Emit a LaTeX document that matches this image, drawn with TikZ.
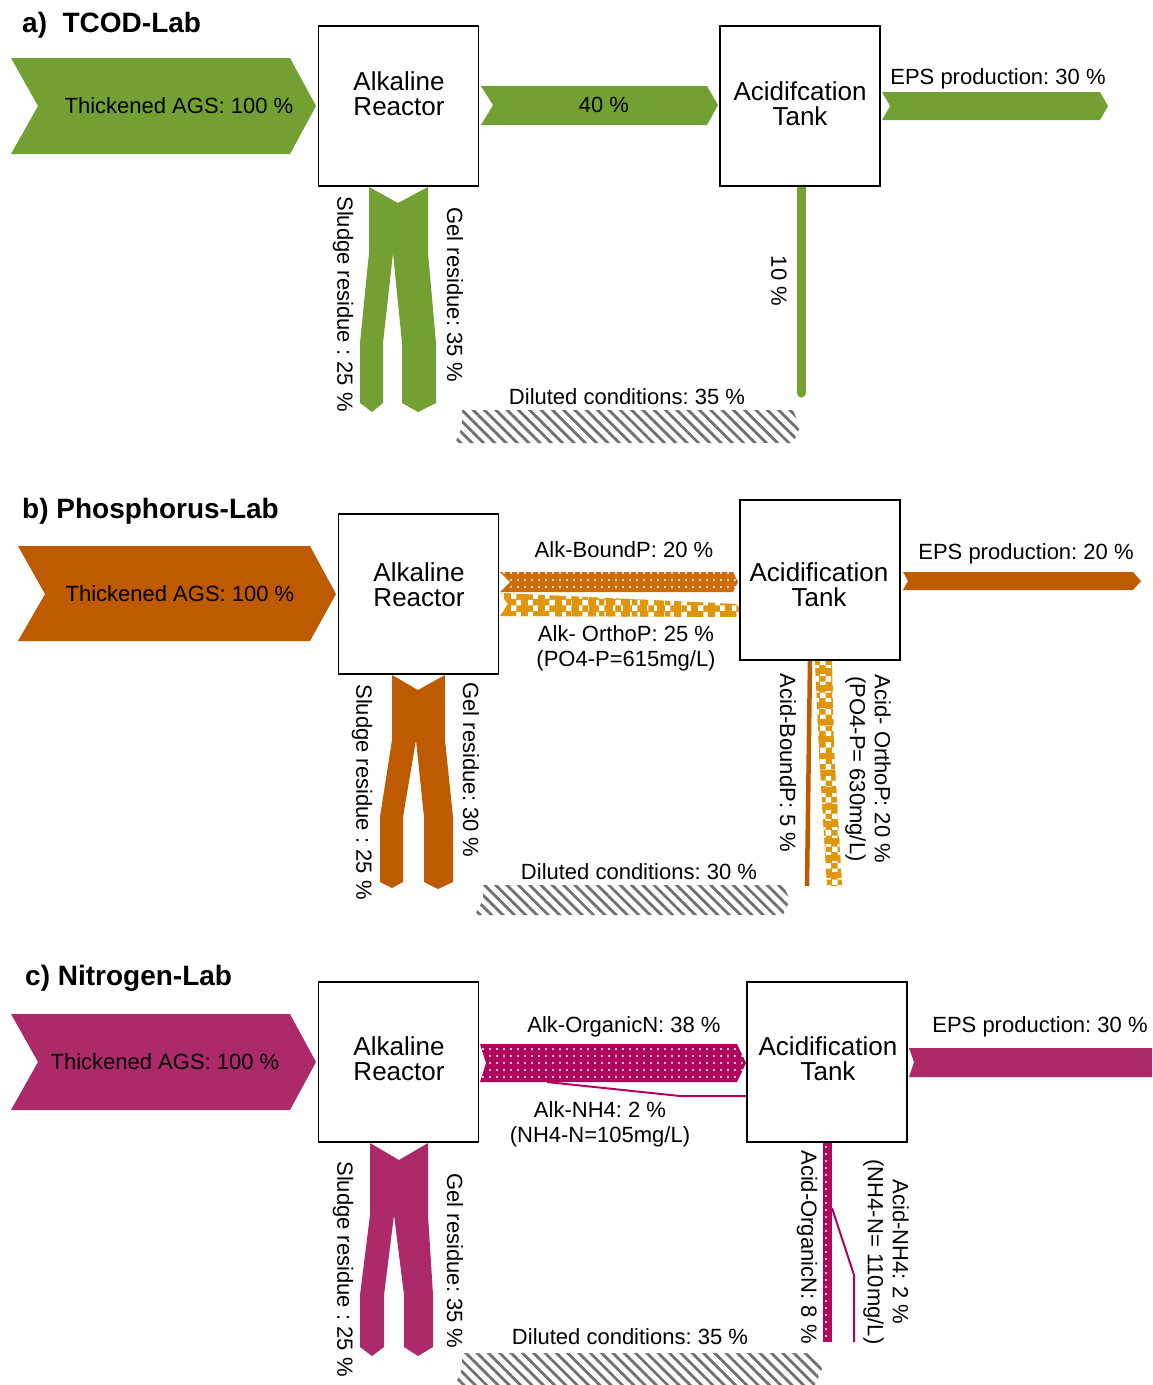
\documentclass[tikz,border=0pt]{standalone}
\usepackage{fontspec}
\setmainfont{Liberation Sans}
\frenchspacing
\usetikzlibrary{patterns,patterns.meta}
\definecolor{grn}{HTML}{73A033}
\definecolor{org}{HTML}{BE5A00}
\definecolor{orgD}{HTML}{CC6C0A}
\definecolor{orgL}{HTML}{E0960A}
\definecolor{mag}{HTML}{AC2A6A}
\definecolor{magD}{HTML}{B0045C}
\definecolor{hatch}{HTML}{707070}
\tikzset{
  box/.style={draw, line width=1.6pt, fill=white, minimum width=160pt, minimum height=160pt, inner sep=0pt},
  boxtxt/.style={font=\fontsize{26}{25}\selectfont, align=center, inner sep=0pt},
  lbl/.style={font=\fontsize{22}{25}\selectfont, align=center, inner sep=0pt},
  ttl/.style={font=\bfseries\fontsize{28}{30}\selectfont, anchor=west, inner sep=0pt},
  dotband/.style={pattern={Dots[distance=7pt,radius=1.2pt]}, pattern color=white},
  hatchband/.style={pattern={Lines[angle=-45,distance=8pt,line width=2.8pt]}, pattern color=hatch}
}
\begin{document}
\begin{tikzpicture}[x=1pt,y=-1pt]
\useasboundingbox (0,0) rectangle (1152,1385);

% ================= a) =================
\node[ttl] (ta) at (22,25) {a)\ \ TCOD-Lab};
\fill[grn] (11,58)--(290,58)--(316,106)--(290,154)--(11,154)--(38,106)--cycle;
\node[lbl] (ina) at (179,106) {Thickened AGS: 100 \%};
% 40 %
\fill[grn] (481,86)--(707,86)--(718,105)--(707,125)--(481,125)--(493,105)--cycle;
\node[lbl] (fa) at (604,105) {40 \%};
% EPS
\fill[grn] (882,92)--(1100,92)--(1108,106)--(1100,120)--(882,120)--(890,106)--cycle;
\node[lbl] (epsa) at (998,79) {EPS production: 30 \%};
% residues (sludge + gel legs)
\fill[grn] (369,187)--(398,203)--(428,187)--(428,253)--(436,343)--(436,403)--(418,412)--(402,403)--(402,343)--(393,253)--(383,343)--(383,403)--(372,412)--(360,403)--(360,343)--(369,253)--cycle;
\node[lbl, rotate=-90] (sla) at (343,304) {Sludge residue : 25 \%};
\node[lbl, rotate=-90] (gla) at (455,295) {Gel residue: 35 \%};
% 10 %
\draw[grn, line width=9pt, line cap=round] (801,180)--(801,393);
\node[lbl, rotate=-90] (tena) at (779,281) {10 \%};
% diluted
\fill[hatchband] (462,410)--(793,410)--(800,427)--(793,443)--(455,443)--(462,427)--cycle;
\node[lbl] (dila) at (627,397) {Diluted conditions: 35 \%};
% boxes
\node[box] (ra) at (398.5,106) {};
\node[boxtxt] at (399,94) {Alkaline\\Reactor};
\node[box] (aa) at (800,106) {};
\node[boxtxt] at (800,104) {Acidifcation\\Tank};

% ================= b) =================
\node[ttl] (tb) at (22,511) {b) Phosphorus-Lab};
\fill[org] (18,546)--(310,546)--(336,594)--(310,641)--(18,641)--(45,594)--cycle;
\node[lbl] (inb) at (180,594) {Thickened AGS: 100 \%};
% Alk-BoundP
\fill[orgD] (500,572)--(733,572)--(738,582)--(733,592)--(500,592)--(510,582)--cycle;
\fill[dotband] (500,572)--(733,572)--(738,582)--(733,592)--(500,592)--(510,582)--cycle;
\node[lbl] (bpb) at (624,550) {Alk-BoundP: 20 \%};
% Alk-OrthoP
\begin{scope}
  \clip (500,593)--(737,604)--(740,610)--(737,617)--(500,616)--(508,604)--cycle;
  \fill[orgL] (495,585) rectangle (745,625);
  \fill[pattern=checkerboard, pattern color=white] (495,585) rectangle (745,625);
  \foreach \x in {504,521,...,740} \fill[orgL] (\x,585) rectangle ++(7,40);
\end{scope}
\node[lbl] (opb) at (626,648) {Alk- OrthoP: 25 \%\\(PO4-P=615mg/L)};
% EPS
\fill[org] (903,572)--(1133,572)--(1141,581)--(1133,590)--(903,590)--(908,581)--cycle;
\node[lbl] (epsb) at (1026,554) {EPS production: 20 \%};
% residues
\fill[org] (392,675)--(418,690)--(445,675)--(445,740)--(453,817)--(453,882)--(438,889)--(424,882)--(424,817)--(416,740)--(403,817)--(403,882)--(392,888)--(380,882)--(380,817)--(392,740)--cycle;
\node[lbl, rotate=-90] (slb) at (362,792) {Sludge residue : 25 \%};
\node[lbl, rotate=-90] (glb) at (471,770) {Gel residue: 30 \%};
% Acid-BoundP
\draw[org, line width=4.5pt] (810,660)--(807,886);
\node[lbl, rotate=-90] (abpb) at (788,763) {Acid-BoundP: 5 \%};
% Acid-OrthoP
\begin{scope}
  \clip (815,661)--(832,661)--(834,750)--(842,886)--(827,886)--(819,750)--cycle;
  \fill[orgL] (810,655) rectangle (850,890);
  \fill[pattern=checkerboard, pattern color=white] (810,655) rectangle (850,890);
  \foreach \y in {668,685,...,885} \fill[orgL] (810,\y) rectangle ++(40,6);
\end{scope}
\node[lbl, rotate=-90] (aopb) at (868,769) {Acid- OrthoP: 20 \%\\(PO4-P= 630mg/L)};
% diluted
\fill[hatchband] (483,885)--(783,885)--(790,900)--(783,915)--(475,915)--(483,900)--cycle;
\node[lbl] (dilb) at (639,872) {Diluted conditions: 30 \%};
% boxes
\node[box] (rb) at (418.5,594) {};
\node[boxtxt] at (419,585) {Alkaline\\Reactor};
\node[box] (ab) at (820,580) {};
\node[boxtxt] at (819,585) {Acidification\\Tank};

% ================= c) =================
\node[ttl] (tc) at (25,978) {c) Nitrogen-Lab};
\fill[mag] (11,1014)--(290,1014)--(316,1062)--(290,1110)--(11,1110)--(38,1062)--cycle;
\node[lbl] (inc) at (165,1062) {Thickened AGS: 100 \%};
% Alk-OrganicN
\fill[magD] (480,1044)--(737,1044)--(746,1063)--(737,1082)--(480,1082)--(486,1063)--cycle;
\fill[dotband] (480,1044)--(737,1044)--(746,1063)--(737,1082)--(480,1082)--(486,1063)--cycle;
\node[lbl] (onc) at (624,1027) {Alk-OrganicN: 38 \%};
% Alk-NH4
\draw[magD, line width=2pt] (547,1082)--(680,1096)--(747,1096);
\node[lbl] (nhc) at (600,1124) {Alk-NH4: 2 \%\\(NH4-N=105mg/L)};
% EPS
\fill[mag] (909,1048)--(1152,1048)--(1152,1077)--(909,1077)--(914,1062)--cycle;
\node[lbl] (epsc) at (1040,1027) {EPS production: 30 \%};
% residues
\fill[mag] (370,1143)--(399,1160)--(428,1143)--(428,1215)--(433,1295)--(433,1347)--(418,1356)--(404,1347)--(404,1295)--(394,1215)--(384,1295)--(384,1347)--(372,1356)--(360,1347)--(360,1295)--(370,1215)--cycle;
\node[lbl, rotate=-90] (slc) at (343,1269) {Sludge residue : 25 \%};
\node[lbl, rotate=-90] (glc) at (455,1261) {Gel residue: 35 \%};
% Acid-OrganicN
\fill[magD] (823,1140) rectangle (832,1342);
\fill[dotband] (823,1140) rectangle (832,1342);
\node[lbl, rotate=-90] (aonc) at (807,1247) {Acid-OrganicN: 8 \%};
% Acid-NH4
\draw[magD, line width=2pt] (832,1208)--(854,1275)--(854,1342);
\node[lbl, rotate=-90] (anhc) at (886,1252) {Acid-NH4: 2 \%\\(NH4-N= 110mg/L)};
% diluted
\fill[hatchband] (462,1353)--(815,1353)--(822,1369)--(815,1385)--(455,1385)--(462,1369)--cycle;
\node[lbl] (dilc) at (630,1337) {Diluted conditions: 35 \%};
% boxes
\node[box] (rc) at (398.5,1062) {};
\node[boxtxt] at (399,1059) {Alkaline\\Reactor};
\node[box] (ac) at (827,1062) {};
\node[boxtxt] at (828,1059) {Acidification\\Tank};
\end{tikzpicture}
\end{document}
